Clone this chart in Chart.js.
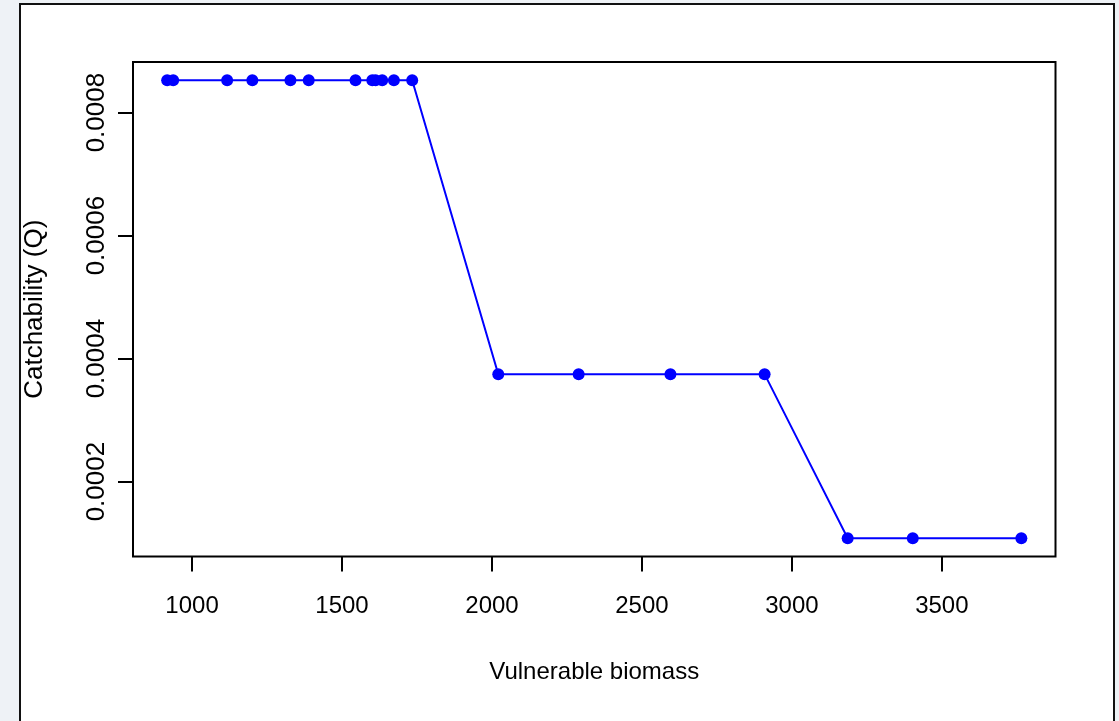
<!DOCTYPE html>
<html>
<head>
<meta charset="utf-8">
<title>Catchability vs vulnerable biomass</title>
<script src="https://cdn.jsdelivr.net/npm/chart.js@4.4.1/dist/chart.umd.min.js"></script>
<style>
  html, body { margin: 0; padding: 0; background: #eef2f6; width: 1119px; height: 721px; overflow: hidden; }
  #panel { position: absolute; left: 19px; top: 3px; width: 1096px; height: 760px; background: #fff;
           border: 2px solid #111; box-sizing: border-box; }
  #wrap { position: absolute; left: 0; top: 0; width: 1119px; height: 721px; }
</style>
</head>
<body>
<div id="panel"></div>
<div id="wrap"><canvas id="chart" width="1119" height="721"></canvas></div>
<script>
// Vulnerable biomass (x) and catchability Q (y) for each observation
const biomass = [917, 937, 1117, 1201, 1328, 1389, 1545, 1601, 1612, 1634, 1673, 1734,
                 2021, 2289, 2595, 2909,
                 3186, 3403, 3765];
const catchability = [0.0008525, 0.0008525, 0.0008525, 0.0008525, 0.0008525, 0.0008525,
                      0.0008525, 0.0008525, 0.0008525, 0.0008525, 0.0008525, 0.0008525,
                      0.0003747, 0.0003747, 0.0003747, 0.0003747,
                      0.000108, 0.000108, 0.000108];

// Axis tick positions
const xTicks = [1000, 1500, 2000, 2500, 3000, 3500];
const yTicks = [0.0002, 0.0004, 0.0006, 0.0008];

const xTitle = 'Vulnerable biomass';
const yTitle = 'Catchability (Q)';

// R-style axis range: data range extended by 4% on each side
function paddedRange(values) {
  const lo = Math.min(...values), hi = Math.max(...values);
  const d = (hi - lo) * 0.04;
  return [lo - d, hi + d];
}
const [xMin, xMax] = paddedRange(biomass);
const [yMin, yMax] = paddedRange(catchability);

const FONT = '"Liberation Sans", Arial, sans-serif';

// Box around the plotting region plus vertical (rotated) y tick labels
const frame = {
  id: 'frame',
  afterDraw(chart) {
    const { ctx, chartArea: a } = chart;
    const ys = chart.scales.y;
    ctx.save();
    ctx.strokeStyle = '#000';
    ctx.lineWidth = 2;
    ctx.strokeRect(a.left, a.top, a.right - a.left, a.bottom - a.top);

    ctx.fillStyle = '#000';
    ctx.font = '26px ' + FONT;
    ctx.textAlign = 'center';
    ctx.textBaseline = 'middle';
    ys.ticks.forEach(t => {
      const py = ys.getPixelForValue(t.value);
      ctx.save();
      ctx.translate(97, py);
      ctx.rotate(-Math.PI / 2);
      ctx.fillText(t.value.toFixed(4), 0, 0);
      ctx.restore();
    });
    ctx.restore();
  }
};

new Chart(document.getElementById('chart'), {
  type: 'line',
  data: {
    datasets: [{
      data: biomass.map((x, i) => ({ x, y: catchability[i] })),
      borderColor: '#0000ff',
      backgroundColor: '#0000ff',
      borderWidth: 2,
      pointRadius: 6,
      pointBorderWidth: 0,
      pointBackgroundColor: '#0000ff',
      tension: 0
    }]
  },
  options: {
    responsive: false,
    animation: false,
    devicePixelRatio: 1,
    layout: { padding: { left: 0, top: 62, right: 63.5, bottom: 0 } },
    plugins: { legend: { display: false }, tooltip: { enabled: false } },
    scales: {
      x: {
        type: 'linear',
        min: xMin,
        max: xMax,
        afterBuildTicks: s => { s.ticks = xTicks.map(v => ({ value: v })); },
        afterFit: s => { s.height = 164.5; },
        border: { display: false },
        grid: { display: true, drawOnChartArea: false, drawTicks: true, tickLength: 15,
                color: '#000', lineWidth: 2 },
        ticks: { color: '#000', font: { family: FONT, size: 24 }, padding: 20,
                 maxRotation: 0, autoSkip: false, callback: v => String(v) },
        title: { display: true, text: xTitle, color: '#000',
                 font: { family: FONT, size: 24 }, padding: { top: 0, bottom: 34.6 } }
      },
      y: {
        type: 'linear',
        min: yMin,
        max: yMax,
        afterBuildTicks: s => { s.ticks = yTicks.map(v => ({ value: v })); },
        afterFit: s => { s.width = 133; },
        border: { display: false },
        grid: { display: true, drawOnChartArea: false, drawTicks: true, tickLength: 15,
                color: '#000', lineWidth: 2 },
        ticks: { display: false },
        title: { display: true, text: yTitle, color: '#000',
                 font: { family: FONT, size: 26 }, padding: { top: 19.4, bottom: 0 } }
      }
    }
  },
  plugins: [frame]
});
</script>
</body>
</html>
